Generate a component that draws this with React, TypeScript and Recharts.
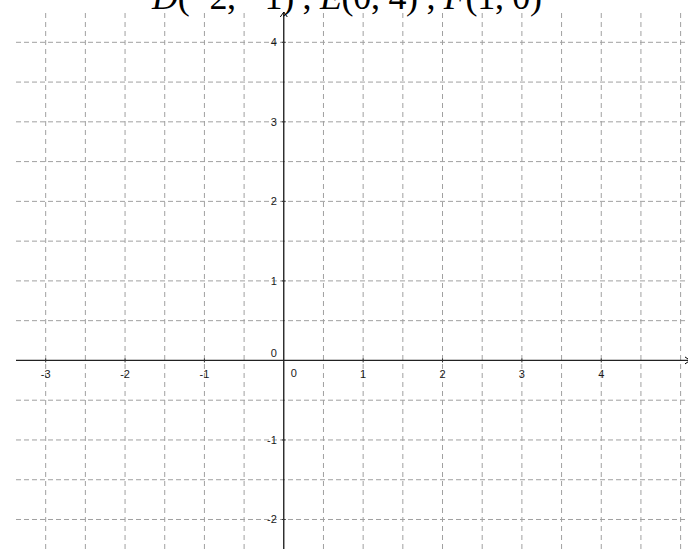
import React from 'react';
import { ScatterChart, Scatter, XAxis, YAxis, ReferenceLine, ReferenceDot } from 'recharts';

// points named in the title (not drawn on the grid)
const points = [
  { name: 'D', x: -2, y: -1 },
  { name: 'E', x: 0, y: 4 },
  { name: 'F', x: 1, y: 0 },
];

// visible window of the coordinate plane
const xDomain = [-3.374, 5.093];
const yDomain = [-2.371, 4.381];

// grid lines every half unit (the axes themselves sit on 0)
const xGridTicks = [-3, -2.5, -2, -1.5, -1, -0.5, 0.5, 1, 1.5, 2, 2.5, 3, 3.5, 4, 4.5, 5];
const yGridTicks = [-2, -1.5, -1, -0.5, 0.5, 1, 1.5, 2, 2.5, 3, 3.5, 4];

// labelled ticks on the axes
const xLabels = [-3, -2, -1, 1, 2, 3, 4];
const yLabels = [-2, -1, 1, 2, 3, 4];

const labelFont = 'Liberation Sans, Arial, sans-serif';
const labelColor = '#1a1a1a';
const gridColor = '#a0a0a0';

const fmt = (v: number) => (v < 0 ? `\u2212${Math.abs(v)}` : `${v}`);

const XTick = (props: any) => {
  const { cx, cy, value } = props;
  return (
    <g>
      <line x1={cx} x2={cx} y1={cy - 2} y2={cy + 2} stroke="#333" />
      <text x={cx} y={cy + 17.5} textAnchor="middle" fontFamily={labelFont} fontSize={11} fill={labelColor}>
        {`${value}`}
      </text>
    </g>
  );
};

const YTick = (props: any) => {
  const { cx, cy, value } = props;
  return (
    <g>
      <line x1={cx - 2} x2={cx + 2} y1={cy} y2={cy} stroke="#333" />
      <text x={cx - 7} y={cy + 4} textAnchor="end" fontFamily={labelFont} fontSize={11} fill={labelColor}>
        {`${value}`}
      </text>
    </g>
  );
};

const Origin = (props: any) => {
  const { cx, cy } = props;
  return (
    <g fontFamily={labelFont} fontSize={11} fill={labelColor}>
      <text x={cx - 7} y={cy - 3} textAnchor="end">0</text>
      <text x={cx + 7} y={cy + 16.5} textAnchor="start">0</text>
    </g>
  );
};

const UpArrow = (props: any) => {
  const { cx, cy } = props;
  return <path d={`M${cx - 3.5},${cy + 5} L${cx},${cy} L${cx + 3.5},${cy + 5}`} fill="none" stroke="#000" />;
};

const RightArrow = (props: any) => {
  const { cx, cy } = props;
  return <path d={`M${cx - 3},${cy - 3.5} L${cx + 2},${cy} L${cx - 3},${cy + 3.5}`} fill="none" stroke="#000" />;
};

export default function App() {
  return (
    <div style={{ position: 'absolute', left: 0, top: 0, width: 688, height: 549, background: '#fff' }}>
      <ScatterChart width={688} height={549} margin={{ top: 12, right: 0, bottom: 0, left: 16 }}>
        <XAxis type="number" dataKey="x" domain={xDomain} allowDataOverflow hide />
        <YAxis type="number" dataKey="y" domain={yDomain} allowDataOverflow hide />
        {yGridTicks.map((v) => (
          <ReferenceLine key={`gy${v}`} y={v} stroke={gridColor} strokeDasharray="5 3" />
        ))}
        {xGridTicks.map((v) => (
          <ReferenceLine key={`gx${v}`} x={v} stroke={gridColor} strokeDasharray="5 4" />
        ))}
        <ReferenceLine x={0} stroke="#000" strokeWidth={1.2} />
        <ReferenceLine y={0} stroke="#222" strokeWidth={1.2} />
        {xLabels.map((v) => (
          <ReferenceDot key={`x${v}`} x={v} y={0} r={0} ifOverflow="visible" shape={(p: any) => <XTick {...p} value={v} />} />
        ))}
        {yLabels.map((v) => (
          <ReferenceDot key={`y${v}`} x={0} y={v} r={0} ifOverflow="visible" shape={(p: any) => <YTick {...p} value={v} />} />
        ))}
        <ReferenceDot x={0} y={0} r={0} ifOverflow="visible" shape={(p: any) => <Origin {...p} />} />
        <ReferenceDot x={0} y={yDomain[1]} r={0} ifOverflow="visible" shape={(p: any) => <UpArrow {...p} />} />
        <ReferenceDot x={xDomain[1]} y={0} r={0} ifOverflow="visible" shape={(p: any) => <RightArrow {...p} />} />
        <Scatter data={[]} isAnimationActive={false} />
      </ScatterChart>
      <svg width={688} height={30} style={{ position: 'absolute', left: 0, top: 0 }}>
        <text
          x={152}
          y={9}
          textLength={390}
          lengthAdjust="spacing"
          fontFamily="Liberation Serif, Times New Roman, serif"
          fontSize={36}
          fill="#000"
          style={{ whiteSpace: 'pre' }}
        >
          {points.map((p, i) => (
            <React.Fragment key={p.name}>
              {i > 0 && <tspan>{' , '}</tspan>}
              <tspan fontStyle="italic">{p.name}</tspan>
              <tspan>{`(${fmt(p.x)}, ${fmt(p.y)})`}</tspan>
            </React.Fragment>
          ))}
        </text>
      </svg>
    </div>
  );
}
